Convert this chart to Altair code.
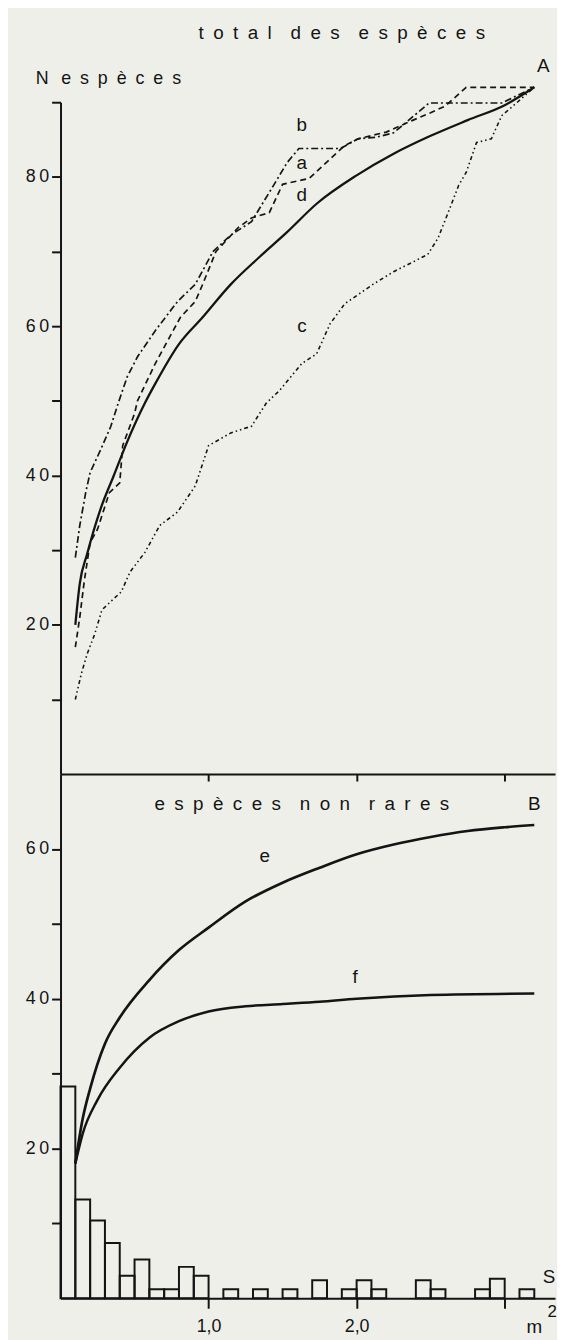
import altair as alt
import pandas as pd

# ---------------- data ----------------
# upper panel: species-area curves, x in m2, y = number of species
a_x = [0.1, 0.13, 0.16, 0.18, 0.2, 0.25, 0.33, 0.4, 0.42, 0.5, 0.52, 0.64, 0.81, 0.91, 0.96,
       1.05, 1.2, 1.29, 1.41, 1.5, 1.68, 1.92, 2.01, 2.2, 2.37, 2.5, 2.6, 2.74, 3.2]
a_y = [17, 21, 25.8, 28.4, 31, 32.8, 37.7, 39, 44, 48.3, 50, 55, 61.2, 63.3, 65.6,
       70, 73.2, 74.5, 75.2, 79, 79.8, 84.2, 85.1, 86, 87.5, 88.6, 89.5, 92, 92]

b_x = [0.1, 0.13, 0.17, 0.2, 0.27, 0.34, 0.39, 0.45, 0.52, 0.64, 0.79, 0.91, 1.03, 1.15,
       1.29, 1.44, 1.53, 1.61, 1.89, 2.01, 2.13, 2.25, 2.49, 2.98, 3.2]
b_y = [29, 33.3, 37.7, 40.4, 43.4, 46.6, 49.7, 53.2, 55.9, 59.4, 63.3, 65.6, 70, 72.2,
       74, 78.9, 81.9, 83.8, 83.8, 85.1, 85.3, 85.9, 89.9, 89.9, 92]

c_x = [0.1, 0.14, 0.18, 0.23, 0.28, 0.36, 0.41, 0.47, 0.57, 0.67, 0.79, 0.91, 1.0, 1.15,
       1.29, 1.39, 1.48, 1.63, 1.73, 1.82, 1.92, 2.11, 2.25, 2.48, 2.55, 2.62, 2.69, 2.74,
       2.81, 2.91, 2.98, 3.08, 3.2]
c_y = [10, 13.4, 16.1, 18.7, 22, 23.5, 24.4, 27.1, 29.7, 33.3, 35.1, 38.6, 44, 45.7,
       46.6, 49.7, 51.4, 55, 56.3, 60.3, 63, 65.6, 67.3, 69.6, 71.8, 75.3, 78.9, 80.6,
       84.6, 85.1, 88.2, 89.9, 92]

d_x = [0.1, 0.13, 0.18, 0.27, 0.36, 0.45, 0.57, 0.64, 0.8, 0.96, 1.15, 1.34, 1.53, 1.73,
       2.0, 2.25, 2.5, 2.75, 3.0, 3.2]
d_y = [20, 25.5, 29.5, 35.5, 40, 44.5, 49.7, 52.3, 57.6, 61.2, 65.6, 69.2, 72.6, 76.4,
       80.2, 83.1, 85.5, 87.6, 89.6, 92]

# lower panel: non-rare species
e_x = [0.1, 0.15, 0.2, 0.3, 0.4, 0.6, 0.8, 1.0, 1.25, 1.5, 1.75, 2.0, 2.25, 2.5, 2.75, 3.0, 3.2]
e_y = [18, 24, 28, 34, 37.5, 42.5, 46.5, 49.5, 53, 55.5, 57.5, 59.3, 60.6, 61.6, 62.4, 62.9, 63.2]

f_x = [0.1, 0.15, 0.25, 0.4, 0.6, 0.8, 1.0, 1.25, 1.5, 1.75, 2.0, 2.5, 3.2]
f_y = [18, 22, 26.5, 30.8, 34.8, 37, 38.3, 39, 39.3, 39.6, 40, 40.5, 40.7]

# histogram S (one bar per 0.1 m2 sample)
bin_start = [0.0, 0.1, 0.2, 0.3, 0.4, 0.5, 0.6, 0.7, 0.8, 0.9, 1.0, 1.1, 1.2, 1.3, 1.4, 1.5,
             1.6, 1.7, 1.8, 1.9, 2.0, 2.1, 2.2, 2.3, 2.4, 2.5, 2.6, 2.7, 2.8, 2.9, 3.0, 3.1]
bin_height = [28.3, 13.2, 10.4, 7.4, 3.0, 5.2, 1.2, 1.2, 4.2, 3.0, 0, 1.2, 0, 1.2, 0, 1.2,
              0, 2.4, 0, 1.2, 2.4, 1.2, 0, 0, 2.4, 1.2, 0, 0, 1.2, 2.6, 0, 1.2]
bin_width = 0.1

# annotations (data coordinates)
top_letters = ["b", "a", "d", "c", "A"]
top_letters_x = [1.63, 1.63, 1.63, 1.63, 3.26]
top_letters_y = [86.9, 81.8, 77.6, 60.0, 94.8]

bot_letters = ["e", "f", "B", "S", "m"]
bot_letters_x = [1.38, 1.99, 3.2, 3.3, 3.2]
bot_letters_y = [59.1, 42.9, 66.0, 2.9, -3.8]

FONT = "Liberation Sans"
INK = "#141414"
EN = "\u2002"
EM = "\u2003"
THIN = "\u2009"


def spaced(s, word_gap=EM):
    return word_gap.join(EN.join(list(w)) for w in s.split(" "))


top_title = spaced("total des espèces")
y_title = spaced("N espèces", EN + THIN)
bot_title = spaced("espèces non rares")

# ---------------- scales / axes ----------------
xscale = alt.Scale(domain=[0, 3.34], nice=False, zero=False)
yscale_top = alt.Scale(domain=[0, 90], nice=False)
yscale_bot = alt.Scale(domain=[0, 70], nice=False)

two_digit = "floor(datum.value / 10) + '\u2009' + (datum.value % 10)"

x_top = alt.X("x:Q", scale=xscale,
              axis=alt.Axis(values=[1, 2, 3], labels=False, tickSize=7, title=None))
y_top = alt.Y("y:Q", scale=yscale_top,
              axis=alt.Axis(values=[10, 20, 30, 40, 50, 60, 70, 80, 90], tickSize=9,
                            labelPadding=3,
                            labelExpr="(datum.value % 20 == 0 && datum.value < 90) ? " + two_digit + " : ''",
                            title=None))
x_bot = alt.X("x:Q", scale=xscale,
              axis=alt.Axis(values=[1, 2, 3], tickSize=10, labelPadding=9,
                            labelExpr="datum.value >= 3 ? '' : replace(format(datum.value, '.1f'), '.', ',')",
                            title=None))
y_bot = alt.Y("y:Q", scale=yscale_bot,
              axis=alt.Axis(values=[10, 20, 30, 40, 50, 60], tickSize=9, labelPadding=3,
                            labelExpr="(datum.value % 20 == 0) ? " + two_digit + " : ''",
                            title=None))


def line_df(xs, ys):
    return pd.DataFrame({"x": xs, "y": ys})


W = 499
H_TOP = 678
H_BOT = 529

# ---------------- upper panel ----------------
la = alt.Chart(line_df(a_x, a_y)).mark_line(color=INK, strokeWidth=1.7, strokeDash=[6, 4],
                                             clip=False).encode(x=x_top, y=y_top)
lb = alt.Chart(line_df(b_x, b_y)).mark_line(color=INK, strokeWidth=1.7, strokeDash=[7, 3, 2, 3],
                                             clip=False).encode(x=x_top, y=y_top)
lc = alt.Chart(line_df(c_x, c_y)).mark_line(color=INK, strokeWidth=1.6,
                                             strokeDash=[4, 3, 1.5, 3, 1.5, 3],
                                             clip=False).encode(x=x_top, y=y_top)
ld = alt.Chart(line_df(d_x, d_y)).mark_line(color=INK, strokeWidth=2.3, interpolate="monotone",
                                             clip=False).encode(x=x_top, y=y_top)

tl_df = pd.DataFrame({"x": top_letters_x, "y": top_letters_y, "t": top_letters})
t_letters = alt.Chart(tl_df).mark_text(font=FONT, fontSize=19, color=INK, baseline="middle",
                                       align="center", clip=False).encode(x=x_top, y=y_top, text="t:N")
t_title = alt.Chart(pd.DataFrame({"x": [1.9], "y": [99.2], "t": [top_title]})).mark_text(
    font=FONT, fontSize=19, color=INK, baseline="middle", align="center", clip=False
).encode(x=x_top, y=y_top, text="t:N")
t_ytitle = alt.Chart(pd.DataFrame({"x": [-0.167], "y": [93.1], "t": [y_title]})).mark_text(
    font=FONT, fontSize=18, color=INK, baseline="middle", align="left", clip=False
).encode(x=x_top, y=y_top, text="t:N")

top = alt.layer(la, lb, lc, ld, t_letters, t_title, t_ytitle).properties(width=W, height=H_TOP)

# ---------------- lower panel ----------------
hist_df = pd.DataFrame({"x": bin_start, "y": bin_height})
hist_df["x2"] = hist_df["x"] + bin_width
hist_df["y0"] = 0.0
hist_df = hist_df[hist_df["y"] > 0]

bars = alt.Chart(hist_df).mark_bar(fill="transparent", stroke=INK, strokeWidth=2,
                                   clip=False).encode(x=x_bot, x2="x2:Q", y=y_bot, y2="y0:Q")
le = alt.Chart(line_df(e_x, e_y)).mark_line(color=INK, strokeWidth=2.7, interpolate="monotone",
                                             clip=False).encode(x=x_bot, y=y_bot)
lf = alt.Chart(line_df(f_x, f_y)).mark_line(color=INK, strokeWidth=2.5, interpolate="monotone",
                                             clip=False).encode(x=x_bot, y=y_bot)

bl_df = pd.DataFrame({"x": bot_letters_x, "y": bot_letters_y, "t": bot_letters})
b_letters = alt.Chart(bl_df).mark_text(font=FONT, fontSize=19, color=INK, baseline="middle",
                                       align="center", clip=False).encode(x=x_bot, y=y_bot, text="t:N")
b_sup = alt.Chart(pd.DataFrame({"x": [3.32], "y": [-1.85], "t": ["2"]})).mark_text(
    font=FONT, fontSize=17, color=INK, baseline="middle", align="center", clip=False
).encode(x=x_bot, y=y_bot, text="t:N")
b_title = alt.Chart(pd.DataFrame({"x": [1.63], "y": [66.0], "t": [bot_title]})).mark_text(
    font=FONT, fontSize=19, color=INK, baseline="middle", align="center", clip=False
).encode(x=x_bot, y=y_bot, text="t:N")

bottom = alt.layer(bars, le, lf, b_letters, b_sup, b_title).properties(width=W, height=H_BOT)

chart = alt.vconcat(top, bottom, spacing=0, bounds="flush").properties(
    padding={"left": 17, "top": 10, "right": 0, "bottom": 0},
    background="#efefe9",
).configure_view(stroke=None).configure_axis(
    grid=False,
    domainColor=INK, domainWidth=2,
    tickColor=INK, tickWidth=2,
    labelFont=FONT, labelFontSize=18, labelColor=INK,
)

chart.save("out.html", embed_options={"renderer": "svg", "actions": False})
